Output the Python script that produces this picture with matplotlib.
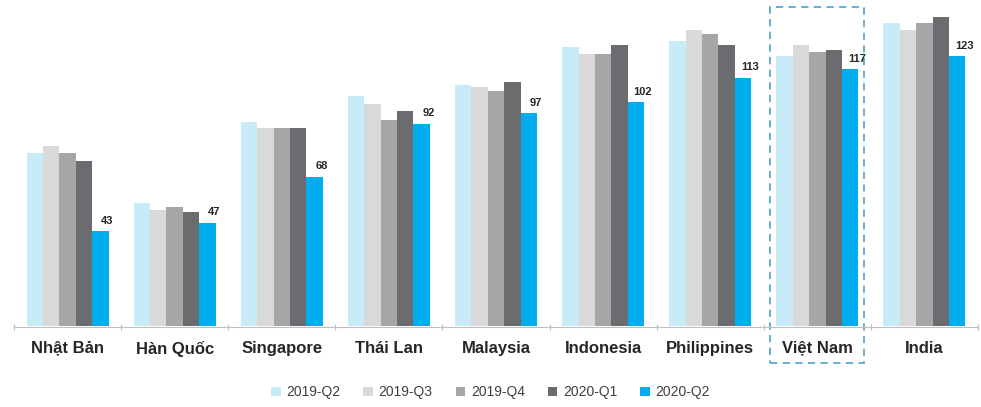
import matplotlib.pyplot as plt
import numpy as np
from matplotlib.patches import Rectangle
import matplotlib.transforms as mtransforms

plt.rcParams['font.family'] = ['Liberation Sans', 'DejaVu Sans']

countries = ["Nhật Bản", "Hàn Quốc", "Singapore", "Thái Lan", "Malaysia",
             "Indonesia", "Philippines", "Việt Nam", "India"]
series = ["2019-Q2", "2019-Q3", "2019-Q4", "2020-Q1", "2020-Q2"]
q2_2019 = [79, 56, 93, 105, 110, 127, 130, 123, 138]
q3_2019 = [82, 53, 90, 101, 109, 124, 135, 128, 135]
q4_2019 = [79, 54, 90, 94, 107, 124, 133, 125, 138]
q1_2020 = [75, 52, 90, 98, 111, 128, 128, 126, 141]
q2_2020 = [43, 47, 68, 92, 97, 102, 113, 117, 123]
colors = ["#c8ebf8", "#d9d9d9", "#a6a6a6", "#6b6c6f", "#00aeef"]

data = [q2_2019, q3_2019, q4_2019, q1_2020, q2_2020]

fig = plt.figure(figsize=(9.81, 4.07), dpi=100)
ax = fig.add_axes([14/981, 80/407, 964/981, 327/407])

x = np.arange(len(countries))
w = 0.153
for i, (vals, c, name) in enumerate(zip(data, colors, series)):
    ax.bar(x + (i - 2) * w, vals, w, color=c, label=name, linewidth=0)

# labels on 2020-Q2
for xi, v in zip(x, q2_2020):
    ax.annotate(str(v), (xi + 2 * w, v), xytext=(5, 4), textcoords="offset points",
                ha="center", va="bottom", fontsize=8, fontweight="bold", color="#262626")

ax.set_xlim(-0.5, len(countries) - 0.5)
ax.set_ylim(-0.6, 148.6)
ax.set_yticks([])
for s in ["top", "right", "left"]:
    ax.spines[s].set_visible(False)
ax.spines["bottom"].set_color("#bfbfbf")
ax.spines["bottom"].set_position(("data", -0.6))

ax.set_xticks(np.arange(-0.5, len(countries)), minor=False)
ax.set_xticklabels([])
ax.tick_params(axis="x", length=5, color="#bfbfbf", direction="inout")
ax.set_xticks(x, minor=True)
ax.set_xticklabels(countries, minor=True, fontsize=12, fontweight="bold", color="#262626")
ax.tick_params(axis="x", which="minor", length=0, pad=10)

# dashed box around Viet Nam
vn = countries.index("Việt Nam")
trans = mtransforms.blended_transform_factory(ax.transData, ax.transAxes)
ax.add_patch(Rectangle((vn - 0.44, -0.11), 0.88, 1.09, transform=trans, fill=False,
                       edgecolor="#5aa9cc", linestyle=(0, (4, 3)), linewidth=1.3,
                       clip_on=False))

leg = fig.legend(loc="lower center", bbox_to_anchor=(0.5, -0.012), ncol=5, frameon=False,
                 fontsize=10, handlelength=0.7, handleheight=0.7, handletextpad=0.4,
                 columnspacing=1.65)
for t in leg.get_texts():
    t.set_color("#404040")

fig.savefig("out.png", dpi=100)
